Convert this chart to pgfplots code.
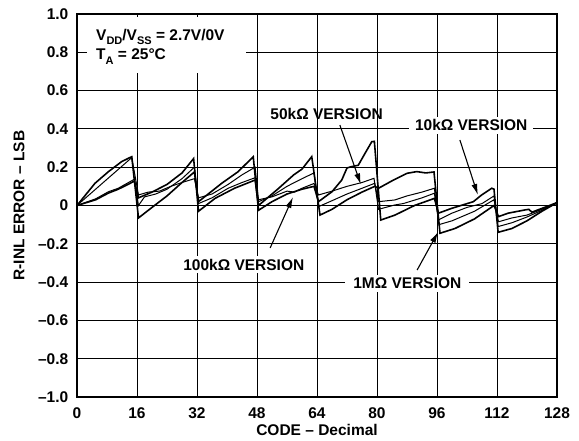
\documentclass[border=0pt]{standalone}
\usepackage{fontspec}
\setmainfont{Liberation Sans}
\usepackage{pgfplots}
\pgfplotsset{compat=1.18}
\usetikzlibrary{arrows.meta}
\newcommand\fs{\fontsize{15.5}{18}\selectfont\bfseries}
\newcommand\sub[1]{\raisebox{-0.32em}{\fontsize{11}{12}\selectfont\bfseries #1}}
\begin{document}
\begin{tikzpicture}
\begin{axis}[
 scale only axis, width=480pt, height=383pt,
 xmin=0, xmax=128, ymin=-1, ymax=1,
 xtick={0,16,...,128}, xticklabels={0,16,32,48,64,80,96,112,128},
 ytick={-1,-0.8,-0.6,-0.4,-0.2,0,0.2,0.4,0.6,0.8,1},
 yticklabels={\textendash1.0,\textendash0.8,\textendash0.6,\textendash0.4,\textendash0.2,0,0.2,0.4,0.6,0.8,1.0},
 grid=major, major grid style={black, line width=0.9pt},
 axis line style={black, line width=1.7pt},
 tick style={black, line width=0.9pt}, major tick length=3pt, tick align=inside,
 xticklabel style={font=\fs, inner sep=0pt, anchor=north, yshift=-10pt},
 yticklabel style={font=\fs, inner sep=0pt, anchor=east, xshift=-8.5pt},
 xlabel={CODE \textendash{} Decimal},
 ylabel={R-INL ERROR \textendash{} LSB},
 xlabel style={font=\fs, at={(axis description cs:0.5,0)}, anchor=north, inner sep=0pt, yshift=-27pt},
 ylabel style={font=\fs, at={(axis description cs:0,0.5)}, anchor=center, inner sep=0pt, yshift=58pt},
]
% curve 1
\addplot[black, line width=1.6pt] coordinates {
(0,0)(4.8,0.116)(8.4,0.177)(11.9,0.229)(14.6,0.255)
(16.4,-0.065)(20,-0.01)(24,0.05)(28,0.12)(31.3,0.175)
(32.4,0.02)(38.6,0.116)(43,0.177)(47,0.255)
(48.4,-0.025)(52,0.02)(56,0.06)(60,0.085)(63.2,0.1)
(64.4,0.02)(68,0.072)(70.6,0.133)(72,0.196)(73.2,0.203)(75,0.21)(76.8,0.272)(78.6,0.333)(79.3,0.335)
(81,-0.076)(84.8,-0.05)(90,0.0)(95.3,0.037)
(96.4,-0.04)(99.9,-0.015)(105.7,0.02)(107.9,0.055)(110.6,0.09)(111.2,0.085)
(112.3,-0.14)(116,-0.12)(120,-0.08)(124,-0.03)(128,0.015)};
% curve 2
\addplot[black, line width=1.6pt] coordinates {
(0,0)(5,0.03)(8.4,0.065)(11,0.085)(14.1,0.115)(15.3,0.128)
(16.4,0.04)(20,0.07)(24,0.11)(28,0.17)(31.1,0.245)
(32.4,-0.03)(36.8,0.037)(42,0.09)(47.5,0.133)
(48.4,0.0)(53.5,0.085)(57.8,0.16)(60,0.19)(62.6,0.255)
(64.8,-0.05)(68,-0.02)(72,0.03)(76,0.07)(79.4,0.1)
(80.4,0.09)(84.4,0.133)(88,0.168)(90.6,0.177)(93,0.17)(95.2,0.175)
(96.8,-0.145)(100.8,-0.12)(106,-0.07)(111.2,0.0)
(112.4,-0.058)(115,-0.04)(119.5,-0.023)(120.5,-0.02)(121.3,-0.035)(124,-0.015)(128,0.015)};
% curve 3
\addplot[black, line width=1.0pt] coordinates {
(0,0)(7,0.12)(14.6,0.25)
(16.4,0.055)(19,0.07)(22,0.075)(25,0.1)(28,0.12)(31.3,0.14)
(32.4,0.04)(36,0.06)(40.3,0.11)(44,0.16)(47.5,0.2)
(48.4,0.03)(52,0.045)(56,0.075)(58,0.07)(60,0.09)(63.2,0.115)
(64.4,0.055)(68,0.075)(72,0.1)(76,0.12)(79.2,0.142)
(80.4,-0.02)(84.8,0.003)(87,0.01)(92,0.04)(95.3,0.064)
(96.4,-0.075)(100,-0.04)(104,-0.01)(108,0.01)(111.2,0.05)
(112.3,-0.11)(116,-0.09)(120,-0.06)(124,-0.025)(128,0.012)};
% curve 4
\addplot[black, line width=1.0pt] coordinates {
(0,0)(5,0.035)(8.4,0.072)(11,0.09)(14.1,0.124)(15.3,0.137)
(16.4,0.0)(18,0.045)(21,0.06)(24,0.085)(28,0.14)(31.3,0.2)
(32.4,0.01)(36,0.04)(40.3,0.09)(44,0.12)(47.5,0.145)
(48.4,0.02)(52,0.05)(56,0.1)(60,0.14)(63.2,0.17)
(64.4,-0.006)(68,0.025)(72,0.06)(76,0.09)(79.4,0.116)
(80.4,0.02)(84.8,0.029)(88,0.05)(92,0.07)(95.3,0.09)
(96.5,-0.1)(100,-0.08)(106,-0.03)(111.2,0.03)
(112.4,-0.085)(116,-0.065)(120,-0.05)(124,-0.02)(128,0.015)};
% condition box
\fill[white] (axis cs:2.7,0.982) rectangle (axis cs:45,0.69);
\node[font=\fs, anchor=base west, inner sep=0pt] at (axis cs:5.07,0.864) {V\sub{DD}/V\sub{SS} = 2.7V/0V};
\node[font=\fs, anchor=base west, inner sep=0pt] at (axis cs:5.07,0.76) {T\sub{A} = 25°C};
% labels
\node[font=\fs, anchor=base east, inner sep=0pt] at (axis cs:81.6,0.4465) {50kΩ VERSION};
\node[font=\fs, anchor=base west, fill=white, inner xsep=6pt, inner ysep=3pt] at (axis cs:88.5,0.39) {10kΩ VERSION};
\node[font=\fs, anchor=base west, fill=white, inner xsep=3pt, inner ysep=3pt] at (axis cs:27.5,-0.337) {100kΩ VERSION};
\node[font=\fs, anchor=base west, fill=white, inner xsep=8pt, inner ysep=3pt] at (axis cs:71.5,-0.436) {1MΩ VERSION};
% arrows
\draw[black, line width=1.1pt, -{Latex[length=11pt,width=6pt]}] (axis cs:70.1,0.42) -- (axis cs:75.7,0.11);
\draw[black, line width=1.1pt, -{Latex[length=11pt,width=6pt]}] (axis cs:102.1,0.342) -- (axis cs:106.9,0.055);
\draw[black, line width=1.1pt, -{Latex[length=11pt,width=6pt]}] (axis cs:51.5,-0.222) -- (axis cs:57.6,0.044);
\draw[black, line width=1.1pt, -{Latex[length=11pt,width=6pt]}] (axis cs:90.7,-0.337) -- (axis cs:96.3,-0.138);
\end{axis}
\pgfresetboundingbox
\path (current axis.south west) ++(-77pt,-44pt) rectangle ++(579pt,441pt);
\end{tikzpicture}
\end{document}
